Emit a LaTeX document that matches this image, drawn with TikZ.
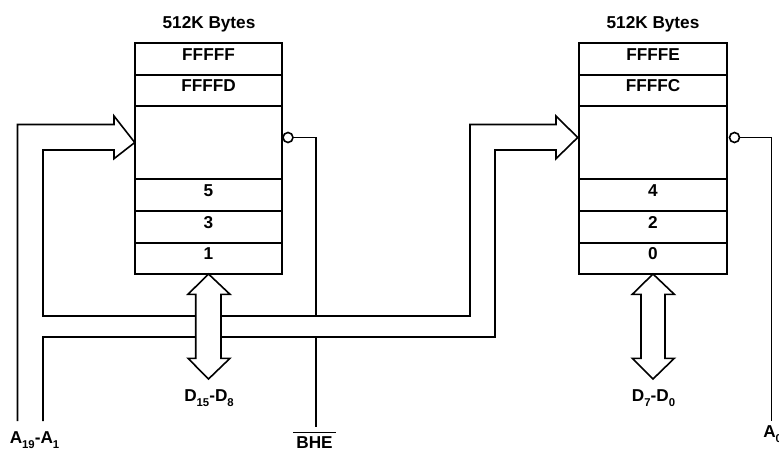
\documentclass[tikz,border=0pt]{standalone}
\usepackage{fontspec}
\setmainfont{Liberation Sans}
\tikzset{
  px/.style={x=0.75pt,y=-0.75pt},
  wire/.style={draw=black,line width=1.2pt,line join=miter},
  cell/.style={draw=black,line width=1.2pt,fill=white,minimum width=110.6pt,inner sep=0pt,outer sep=0pt,text height=6.5pt,text depth=4.5pt,font=\bfseries\fontsize{12.9pt}{14pt}\selectfont},
  lbl/.style={inner sep=0pt,anchor=base,font=\bfseries\fontsize{12.9pt}{14pt}\selectfont},
  bubble/.style={circle,draw=black,line width=1.2pt,fill=white,minimum size=7.5pt,inner sep=0pt,outer sep=0pt},
  busarrow/.style={draw=black,line width=1.2pt,fill=white,line join=miter}
}
\newcommand{\subs}[1]{\raisebox{-0.28em}{\fontsize{8.5pt}{9pt}\selectfont #1}}
\begin{document}
\begin{tikzpicture}[px]
\useasboundingbox (0,0) rectangle (779,450);
% left memory
\node[cell,minimum height=24pt] (lf) at (208.5,59) {FFFFF};
\node[cell,minimum height=23.25pt] (ld) at (208.5,90.5) {FFFFD};
\node[cell,minimum height=54.75pt] (lm) at (208.5,142.5) {};
\node[cell,minimum height=24pt] (l5) at (208.5,195) {5};
\node[cell,minimum height=24pt] (l3) at (208.5,227) {3};
\node[cell,minimum height=23.25pt] (l1) at (208.5,258.5) {1};
% right memory
\node[cell,minimum height=24pt] (rf) at (653,59) {FFFFE};
\node[cell,minimum height=23.25pt] (rd) at (653,90.5) {FFFFC};
\node[cell,minimum height=54.75pt] (rm) at (653,142.5) {};
\node[cell,minimum height=24pt] (r4) at (653,195) {4};
\node[cell,minimum height=24pt] (r2) at (653,227) {2};
\node[cell,minimum height=23.25pt] (r0) at (653,258.5) {0};
% labels
\node[lbl] (ltitle) at (209,28.3) {512K Bytes};
\node[lbl] (rtitle) at (653,28.3) {512K Bytes};
\node[lbl] (dhi) at (209,401.7) {D\subs{15}-D\subs{8}};
\node[lbl] (dlo) at (653.5,401.7) {D\subs{7}-D\subs{0}};
\node[lbl] (addr) at (34.5,443.3) {A\subs{19}-A\subs{1}};
\node[lbl] (bhe) at (314.5,448) {\vbox{\hrule width 32pt height 0.9pt \vskip 2.6pt \hbox to 32pt{\hss BHE\hss}}};
\node[lbl,anchor=base west] (azero) at (763,437.3) {A\subs{0}};
% free ends
\coordinate (a1end) at (17.5,421);
\coordinate (a2end) at (43,421);
\coordinate (bheend) at (316,427);
\coordinate (a0end) at (771.5,421);
% bubbles
\node[bubble] (lb) at (288,137.5) {};
\node[bubble] (rb) at (734.5,137.5) {};
% control lines
\draw[wire] (lb.east) -- (316,137.5) -- (316,316);
\draw[wire] (316,337) -- (bheend);
\draw[wire] (rb.east) -- (771.5,137.5) -- (a0end);
% address bus
\draw[wire] (a1end) -- (17.5,124.5) -- (114,124.5) -- (114,116) -- (lm.west) -- (114,158.7) -- (114,150) -- (43,150) -- (43,316) -- (470,316) -- (470,124.5) -- (556,124.5) -- (556,116) -- (577.7,137.5) -- (556,158.7) -- (556,150) -- (495,150) -- (495,337) -- (43,337) -- (a2end);
% data arrows
\draw[busarrow] (l1.south) -- (230,294.3) -- (221,294.3) -- (221,358.3) -- (230,358.3) -- (208.5,379) -- (188,358.3) -- (195.7,358.3) -- (195.7,294.3) -- (188,294.3) -- cycle;
\draw[busarrow] (r0.south) -- (674.3,294.3) -- (665,294.3) -- (665,358.3) -- (674.3,358.3) -- (653,379) -- (632.3,358.3) -- (641,358.3) -- (641,294.3) -- (632.3,294.3) -- cycle;
\end{tikzpicture}
\end{document}
